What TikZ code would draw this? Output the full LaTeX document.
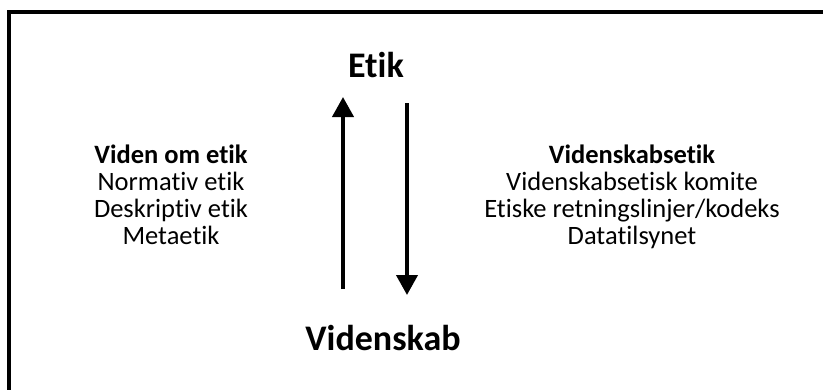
\documentclass[tikz,border=0pt]{standalone}
\usepackage{fontspec}
\setmainfont{Carlito}[Ligatures=NoCommon]
\usetikzlibrary{arrows.meta}
\tikzset{
  title/.style={anchor=base, inner sep=0pt, font=\fontsize{36}{36}\selectfont\bfseries},
  item/.style={anchor=base, inner sep=0pt, font=\fontsize{26.5}{26.5}\selectfont},
  bitem/.style={item, font=\fontsize{26.5}{26.5}\selectfont\bfseries},
  flow/.style={line width=4pt, -{Triangle[width=21pt,length=20pt]}},
  frame/.style={line width=4pt, line join=miter}
}
\begin{document}
\begin{tikzpicture}[x=1pt,y=-1pt]
\useasboundingbox (0,0) rectangle (823,389);
\draw[frame] (825,12) -- (9,12) -- (9,391);
\node[title] (etik) at (376,77) {Etik};
\node[title] (vid) at (383,350) {Videnskab};
\node[bitem] (l1) at (171,163) {Viden om etik};
\node[item] (l2) at (171,190) {Normativ etik};
\node[item] (l3) at (171,217) {Deskriptiv etik};
\node[item] (l4) at (171,244) {Metaetik};
\node[bitem] (r1) at (632,163) {Videnskabsetik};
\node[item] (r2) at (632,190) {Videnskabsetisk komite};
\node[item] (r3) at (632,217) {Etiske retningslinjer/kodeks};
\node[item] (r4) at (632,244) {Datatilsynet};
\coordinate (ua) at (343,289);
\coordinate (ub) at (343,97);
\coordinate (da) at (407,103);
\coordinate (db) at (407,295);
\draw[flow] (ua) -- (ub);
\draw[flow] (da) -- (db);
\end{tikzpicture}
\end{document}
